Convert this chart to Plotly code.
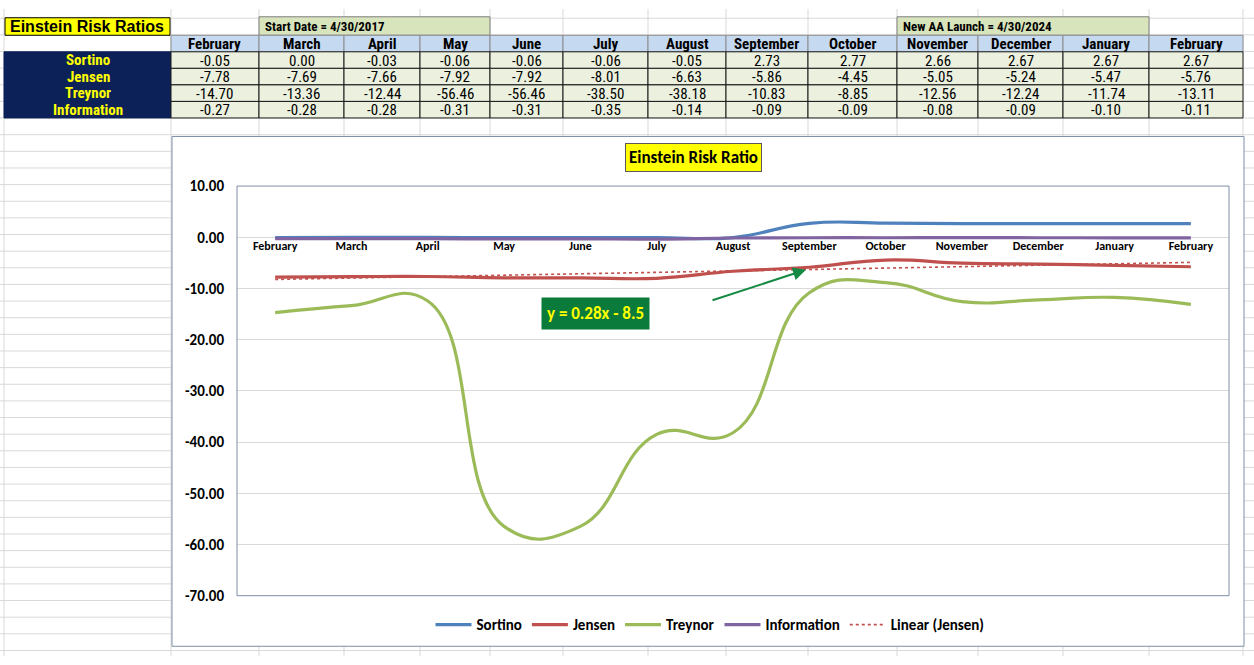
import numpy as np
import plotly.graph_objects as go

# ---- data ----
months = ["February", "March", "April", "May", "June", "July", "August",
          "September", "October", "November", "December", "January", "February"]
sortino = [-0.05, 0.00, -0.03, -0.06, -0.06, -0.06, -0.05, 2.73, 2.77, 2.66, 2.67, 2.67, 2.67]
jensen = [-7.78, -7.69, -7.66, -7.92, -7.92, -8.01, -6.63, -5.86, -4.45, -5.05, -5.24, -5.47, -5.76]
treynor = [-14.70, -13.36, -12.44, -56.46, -56.46, -38.50, -38.18, -10.83, -8.85, -12.56, -12.24, -11.74, -13.11]
information = [-0.27, -0.28, -0.28, -0.31, -0.31, -0.35, -0.14, -0.09, -0.09, -0.08, -0.09, -0.10, -0.11]
row_names = ["Sortino", "Jensen", "Treynor", "Information"]
y_ticks = [10, 0, -10, -20, -30, -40, -50, -60, -70]

x = list(range(1, len(months) + 1))
rows = [sortino, jensen, treynor, information]

# excel style linear trendline on Jensen
slope, intercept = np.polyfit(x, jensen, 1)
trend = [slope * v + intercept for v in x]

W, H = 1254, 665
def fx(p):
    return p / W
def fy(p):
    return 1 - p / H

TF = "Liberation Sans Narrow, Arial Narrow, Roboto Condensed, DejaVu Sans Condensed, sans-serif"
TFW = "Liberation Sans, Arial, sans-serif"
CF = "Carlito, Calibri, Lato, sans-serif"

col_edges = [171, 259, 344, 420, 490, 563, 648, 726, 808, 897, 978, 1063, 1149, 1243]
row_edges = [44, 61, 78, 95, 112]

shapes = []
annotations = []

# spreadsheet gridlines
grid_col = "#d9d9d9"
for cx in [4] + col_edges:
    shapes.append(dict(type="line", xref="paper", yref="paper", x0=fx(cx), x1=fx(cx),
                       y0=0, y1=1, line=dict(color=grid_col, width=1), layer="below"))
ry = 9.5
while ry < H:
    shapes.append(dict(type="line", xref="paper", yref="paper", x0=0, x1=1,
                       y0=fy(ry), y1=fy(ry), line=dict(color=grid_col, width=1), layer="below"))
    ry += 17.1

def box(x0, y0, x1, y1, fill, line="#404040", lw=1):
    shapes.append(dict(type="rect", xref="paper", yref="paper", x0=fx(x0), x1=fx(x1),
                       y0=fy(y1), y1=fy(y0), fillcolor=fill,
                       line=dict(color=line, width=lw), layer="below"))

def label(px_, py_, text, size=13, color="black", family=TF, bold=True, xanchor="center"):
    annotations.append(dict(xref="paper", yref="paper", x=fx(px_), y=fy(py_), text=text,
                            showarrow=False, xanchor=xanchor, yanchor="middle",
                            font=dict(family=family, size=size, color=color,
                                      weight="bold" if bold else "normal")))

# table title and date boxes
box(5, 9, 170, 27, "#ffff00", "#000000")
label(87, 18, "Einstein Risk Ratios", size=16, family=TFW)
box(259, 8, 490, 27, "#d7e4bc", "#7f7f7f")
label(263, 18, "Start Date = 4/30/2017", size=13, xanchor="left")
box(897, 8, 1149, 27, "#d7e4bc", "#7f7f7f")
label(901, 18, "New AA Launch = 4/30/2024", size=13, xanchor="left")

# header row
for i, m in enumerate(months):
    box(col_edges[i], 27, col_edges[i + 1], 44, "#c5d9f1", "#8c8c8c")
    label((col_edges[i] + col_edges[i + 1]) / 2, 36, m, size=15)

# row label block
box(4, 44, 171, 112, "#0c2158", "#0c2158")
for r, name in enumerate(row_names):
    label(88, (row_edges[r] + row_edges[r + 1]) / 2, name, size=15, color="#ffff00")

# values
for r, vals in enumerate(rows):
    for i, v in enumerate(vals):
        box(col_edges[i], row_edges[r], col_edges[i + 1], row_edges[r + 1], "#ebf1de", "#1a1a1a")
        label((col_edges[i] + col_edges[i + 1]) / 2, (row_edges[r] + row_edges[r + 1]) / 2 + 0.5,
              "%.2f" % v, size=15, bold=False)

# chart frame
box(172, 131, 1244, 655, "white", "#7d8ea6")

fig = go.Figure()
colors = ["#4f81bd", "#c0504d", "#9bbb59", "#8064a2"]
for name, vals, c in zip(row_names, rows, colors):
    fig.add_trace(go.Scatter(x=x, y=vals, name=name, mode="lines",
                             line=dict(color=c, width=3.2, shape="spline", smoothing=1.3)))
fig.add_trace(go.Scatter(x=x, y=trend, name="Linear (Jensen)", mode="lines",
                         line=dict(color="#c0504d", width=1.6, dash="dot")))

# plot area border
plot_l, plot_r, plot_t, plot_b = 237, 1229, 182, 603
shapes.append(dict(type="rect", xref="paper", yref="paper", x0=fx(plot_l), x1=fx(plot_r),
                   y0=fy(plot_b), y1=fy(plot_t), line=dict(color="#7d8ea6", width=1),
                   fillcolor="rgba(0,0,0,0)", layer="above"))

# chart title, equation and arrow
annotations.append(dict(xref="paper", yref="paper", x=fx(693), y=fy(153), text="Einstein Risk Ratio",
                        showarrow=False, xanchor="center", yanchor="middle",
                        bgcolor="#ffff00", bordercolor="#595959", borderwidth=1,
                        borderpad=3, font=dict(family=CF, size=17, color="black", weight="bold")))
eq = "y = %.2fx - %.1f" % (slope, abs(intercept))
annotations.append(dict(xref="paper", yref="paper", x=fx(595), y=fy(313), text=eq,
                        showarrow=False, xanchor="center", yanchor="middle",
                        bgcolor="#0a7b3b", borderpad=5,
                        font=dict(family=CF, size=17, color="#ffff00", weight="bold")))
annotations.append(dict(xref="paper", yref="paper", x=fx(806), y=fy(268), ax=-95, ay=31,
                        text="", showarrow=True, arrowhead=2, arrowsize=1.3, arrowwidth=2,
                        arrowcolor="#168a44"))

ydom = [fy(plot_b), fy(plot_t)]
zero_pos = ydom[0] + (0 - min(y_ticks)) / (max(y_ticks) - min(y_ticks)) * (ydom[1] - ydom[0])

fig.update_layout(
    width=W, height=H,
    margin=dict(l=0, r=0, t=0, b=0),
    paper_bgcolor="white", plot_bgcolor="white",
    shapes=shapes, annotations=annotations,
    showlegend=True,
    legend=dict(orientation="h", x=fx(710), xanchor="center", y=fy(633), yanchor="middle",
                font=dict(family=CF, size=15, color="black", weight="bold"),
                bgcolor="rgba(0,0,0,0)", itemwidth=36),
    xaxis=dict(domain=[fx(plot_l), fx(plot_r)], range=[0.5, len(x) + 0.5],
               tickvals=x, ticktext=months, anchor="free", position=zero_pos,
               showgrid=False, zeroline=False, showline=False, ticks="",
               tickfont=dict(family=CF, size=12, color="black", weight="bold"), tickangle=0),
    yaxis=dict(domain=ydom, range=[min(y_ticks), max(y_ticks)],
               tickvals=y_ticks, ticktext=["%.2f" % v for v in y_ticks],
               showgrid=True, gridcolor="#d9d9d9", zeroline=False, showline=False,
               ticks="", ticklabelstandoff=12,
               tickfont=dict(family=CF, size=15, color="black", weight="bold")),
)

fig.write_html("out.html", config={"displayModeBar": False},
               post_script="document.body.style.margin='0';document.body.style.overflow='hidden';")
